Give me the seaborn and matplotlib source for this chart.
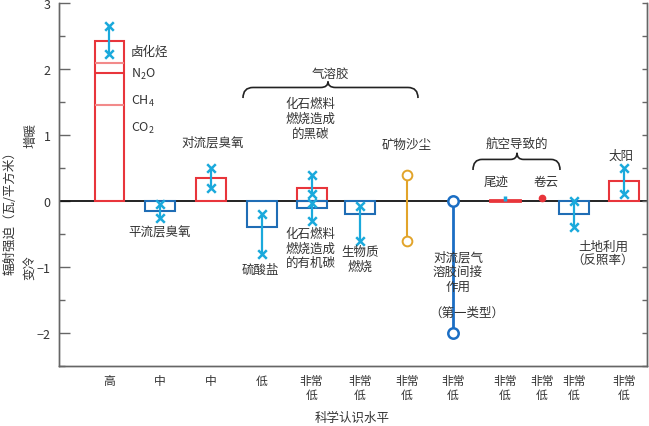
import numpy as np
import pandas as pd
import matplotlib
matplotlib.use("Agg")
import matplotlib.pyplot as plt
from matplotlib.path import Path
from matplotlib.patches import PathPatch
import seaborn as sns

# --- data ---
levels = ["高", "中", "中", "低", "非常\n低", "非常\n低", "非常\n低", "非常\n低",
          "非常\n低", "非常\n低", "非常\n低", "非常\n低"]

# greenhouse gases, stacked in the first column
ghg_names = ["CO$_2$", "CH$_4$", "N$_2$O", "卤化烃"]
ghg_values = [1.46, 0.48, 0.15, 0.34]
ghg_err = [2.22, 2.65]

# box forcings: name, column, value, error low, error high
box_names = ["平流层臭氧", "对流层臭氧", "硫酸盐", "黑碳", "有机碳",
             "生物质燃烧", "土地利用", "太阳"]
box_column = [1, 2, 3, 4, 4, 5, 10, 11]
box_values = [-0.15, 0.35, -0.40, 0.20, -0.10, -0.20, -0.20, 0.30]
box_err_low = [-0.25, 0.20, -0.80, 0.10, -0.30, -0.60, -0.40, 0.10]
box_err_high = [-0.05, 0.50, -0.20, 0.40, -0.03, -0.07, 0.00, 0.50]

# aviation
contrail_value = 0.02
contrail_err = [0.005, 0.08]
cirrus_value = 0.04

# range-only forcings
dust_range = [0.4, -0.6]
indirect_range = [0.0, -2.0]

# --- layout ---
x_pos = [1.0, 2.02, 3.04, 4.06, 5.05, 6.02, 6.96, 7.88, 8.92, 9.66, 10.3, 11.3]
bar_w = 0.6

RED = "#e8353b"
PINK = "#f28a8a"
BLUE = "#1f6db5"
CYAN = "#1aa9dc"
ORANGE = "#e2a42a"
IND_BLUE = "#1b6ec4"
TXT = "#333333"
GRAY = "#666666"

sns.set_theme(style="ticks")
plt.rcParams["font.family"] = ["Noto Sans CJK SC", "DejaVu Sans"]
plt.rcParams["mathtext.default"] = "regular"
plt.rcParams["axes.unicode_minus"] = True

fig = plt.figure(figsize=(6.49, 4.27), dpi=100)
ax = fig.add_axes([59 / 649, 60 / 427, 588 / 649, 363 / 427])
ax.set_xlim(0, 11.76)
ax.set_ylim(-2.5, 3.0)

# greenhouse stack: outer box plus divider lines between the gases
ghg_w = 0.58
ghg_tops = np.cumsum(ghg_values)
ax.bar(x_pos[0], ghg_tops[-1], width=ghg_w, fill=False, edgecolor=RED, linewidth=1.5, zorder=3)
ax.hlines(ghg_tops[:-1], x_pos[0] - ghg_w / 2, x_pos[0] + ghg_w / 2,
          colors=[PINK, RED, PINK], linewidth=1.5, zorder=3)

# box bars
bx = [x_pos[c] for c in box_column]
bcol = [RED if v > 0 else BLUE for v in box_values]
ax.bar(bx, box_values, width=bar_w, fill=False, edgecolor=bcol, linewidth=1.5, zorder=3)

# contrail bar and cirrus dot
ax.bar(x_pos[8], contrail_value, width=bar_w, color=RED, edgecolor=RED, linewidth=2.0, zorder=3)
ax.vlines(x_pos[8], contrail_err[0], contrail_err[1], color=CYAN, linewidth=2.5, zorder=4)
ax.plot(x_pos[9], cirrus_value, "o", color=RED, markersize=4.5, zorder=4)

# error bars
err_df = pd.DataFrame({
    "x": [x_pos[0]] + bx,
    "lo": [ghg_err[0]] + box_err_low,
    "hi": [ghg_err[1]] + box_err_high,
})
ax.vlines(err_df["x"], err_df["lo"], err_df["hi"], color=CYAN, linewidth=1.6, zorder=4)
ends = pd.DataFrame({"x": list(err_df["x"]) * 2, "y": list(err_df["lo"]) + list(err_df["hi"])})
sns.scatterplot(data=ends, x="x", y="y", marker="x", s=38, color=CYAN, linewidth=1.8, ax=ax, zorder=5)
ax.set_xlabel("")
ax.set_ylabel("")

# mineral dust and indirect aerosol ranges
ax.plot([x_pos[6]] * 2, dust_range, color=ORANGE, linewidth=1.5, zorder=3)
ax.plot([x_pos[6]] * 2, dust_range, "o", color=ORANGE, markerfacecolor="white",
        markersize=7, markeredgewidth=1.4, zorder=4)
ax.plot([x_pos[7]] * 2, indirect_range, color=IND_BLUE, linewidth=2.0, zorder=3)
ax.plot([x_pos[7]] * 2, indirect_range, "o", color=IND_BLUE, markerfacecolor="white",
        markersize=7.5, markeredgewidth=1.8, zorder=6)

ax.axhline(0, color="#111111", linewidth=1.3, zorder=2)


def brace(x0, x1, xm, y_end, y_mid, y_tip, r=0.2, r2=0.15):
    verts = [(x0, y_end), (x0, y_mid), (x0 + r, y_mid),
             (xm - r2, y_mid), (xm, y_mid), (xm, y_tip),
             (xm, y_mid), (xm + r2, y_mid),
             (x1 - r, y_mid), (x1, y_mid), (x1, y_end)]
    codes = [Path.MOVETO, Path.CURVE3, Path.CURVE3,
             Path.LINETO, Path.CURVE3, Path.CURVE3,
             Path.CURVE3, Path.CURVE3,
             Path.LINETO, Path.CURVE3, Path.CURVE3]
    ax.add_patch(PathPatch(Path(verts, codes), fill=False, edgecolor="#222222", linewidth=1.2))


brace(3.68, 7.18, 5.38, 1.56, 1.72, 1.81)
brace(8.28, 10.02, 9.16, 0.47, 0.63, 0.73, r=0.18, r2=0.13)

fs = 9
kw = dict(fontsize=fs, color=TXT, ha="center", va="center", zorder=7)
ax.text(1.44, 2.27, ghg_names[3], **{**kw, "ha": "left"})
ax.text(1.44, 1.94, ghg_names[2], **{**kw, "ha": "left"})
ax.text(1.44, 1.52, ghg_names[1], **{**kw, "ha": "left"})
ax.text(1.44, 1.11, ghg_names[0], **{**kw, "ha": "left"})
ax.text(2.02, -0.47, "平流层臭氧", **kw)
ax.text(3.08, 0.90, "对流层臭氧", **kw)
ax.text(5.42, 1.94, "气溶胶", **kw)
ax.text(5.03, 1.25, "化石燃料\n燃烧造成\n的黑碳", linespacing=1.15, **kw)
ax.text(5.03, -0.71, "化石燃料\n燃烧造成\n的有机碳", linespacing=1.15, **kw)
ax.text(4.02, -1.04, "硫酸盐", **kw)
ax.text(6.02, -0.88, "生物质\n燃烧", linespacing=1.15, **kw)
ax.text(6.96, 0.86, "矿物沙尘", **kw)
ax.text(7.98, -1.07, "对流层气\n溶胶间接\n作用", linespacing=1.15, **kw)
ax.text(8.15, -1.68, "（第一类型）", **kw)
ax.text(9.16, 0.87, "航空导致的", **kw)
ax.text(8.74, 0.30, "尾迹", **kw)
ax.text(9.74, 0.30, "卷云", **kw)
ax.text(10.88, -0.79, "土地利用\n（反照率）", linespacing=1.0, **kw)
ax.text(11.24, 0.69, "太阳", **kw)

# axes styling
for s in ["left", "right", "bottom"]:
    ax.spines[s].set_color(GRAY)
    ax.spines[s].set_linewidth(1.0)
ax.spines["top"].set_visible(False)
ax.set_yticks([-2, -1, 0, 1, 2, 3])
ax.set_yticklabels(["−2", "−1", "0", "1", "2", "3"])
ax.set_yticks(np.arange(-2.5, 3.01, 0.5), minor=True)
ax.tick_params(axis="y", which="major", direction="in", length=8, width=1.0,
               color=GRAY, labelsize=9, labelcolor=TXT, pad=6)
ax.tick_params(axis="y", which="minor", direction="in", length=4, width=1.0, color=GRAY)
ax.set_xticks(x_pos)
ax.set_xticklabels(levels, linespacing=1.1)
ax.tick_params(axis="x", length=0, labelsize=8.5, labelcolor=TXT, pad=6)

rax = ax.twinx()
rax.set_ylim(ax.get_ylim())
rax.set_yticks(np.arange(-2.5, 3.01, 0.5))
rax.set_yticklabels([])
rax.tick_params(axis="y", direction="in", length=3.5, width=1.0, color=GRAY)
rax.spines["top"].set_visible(False)
for s in ["left", "right", "bottom"]:
    rax.spines[s].set_color(GRAY)
    rax.spines[s].set_linewidth(1.0)

fig.text(10 / 649, 1 - 210 / 427, "辐射强迫（瓦/平方米）", rotation=90, ha="center", va="center",
         fontsize=fs, color=TXT)
fig.text(31 / 649, 1 - 135 / 427, "增暖", rotation=90, ha="center", va="center", fontsize=fs, color=TXT)
fig.text(31 / 649, 1 - 268 / 427, "变冷", rotation=90, ha="center", va="center", fontsize=fs, color=TXT)
fig.text(352 / 649, 1 - 418 / 427, "科学认识水平", ha="center", va="center", fontsize=fs, color=TXT)

fig.savefig("out.png", dpi=100, facecolor="white")
